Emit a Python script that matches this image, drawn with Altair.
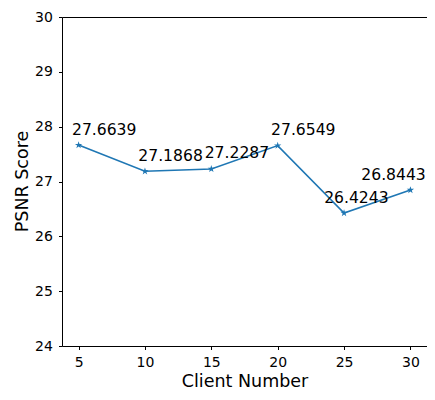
import altair as alt
import pandas as pd

clients = [5, 10, 15, 20, 25, 30]
psnr = [27.6639, 27.1868, 27.2287, 27.6549, 26.4243, 26.8443]
labels = ["27.6639", "27.1868", "27.2287", "27.6549", "26.4243", "26.8443"]
label_x = [4.5, 9.5, 14.5, 19.5, 23.5, 26.3]
x_ticks = [5, 10, 15, 20, 25, 30]
y_ticks = [24, 25, 26, 27, 28, 29, 30]

df = pd.DataFrame({"client": clients, "psnr": psnr, "label": labels, "lx": label_x})

STAR = ("M0,-1L0.2245,-0.309L0.9511,-0.309L0.3633,0.118L0.5878,0.809L0,0.382"
        "L-0.5878,0.809L-0.3633,0.118L-0.9511,-0.309L-0.2245,-0.309Z")

FONT = "DejaVu Sans"
BLUE = "#1f77b4"

xscale = alt.Scale(domain=[3.75, 31.25], nice=False, zero=False)
yscale = alt.Scale(domain=[24, 30], nice=False, zero=False)

xaxis = alt.Axis(orient="bottom", values=x_ticks, title="Client Number", grid=False, format="d",
                 titleY=40, titleBaseline="alphabetic",
                 labelBaseline="alphabetic", labelPadding=16.5)
xaxis_top = alt.Axis(orient="top", values=x_ticks, title=None, grid=False,
                     labels=False, ticks=False, domain=True)
yaxis = alt.Axis(values=y_ticks, title="PSNR Score", grid=False, format="d",
                 titleX=-35, titleY=164, titleAngle=270, titleBaseline="alphabetic",
                 titleAlign="center", labelPadding=6.2)

base = alt.Chart(df)

line = base.mark_line(color=BLUE, strokeWidth=1.6).encode(
    x=alt.X("client:Q", scale=xscale, axis=xaxis),
    y=alt.Y("psnr:Q", scale=yscale, axis=yaxis),
)

points = base.mark_point(shape=STAR, filled=True, size=60, color=BLUE, opacity=1).encode(
    x=alt.X("client:Q", scale=xscale, axis=xaxis_top),
    y=alt.Y("psnr:Q", scale=yscale),
)

texts = base.mark_text(align="left", baseline="alphabetic", dy=-10.5, fontSize=15.6,
                       font=FONT, color="black").encode(
    x=alt.X("lx:Q", scale=xscale, axis=None),
    y=alt.Y("psnr:Q", scale=yscale),
    text="label:N",
)

chart = (
    alt.layer(line, points, texts)
    .resolve_scale(x="shared", y="shared")
    .resolve_axis(x="independent")
    .properties(
        width=365,
        height=329,
        autosize=alt.AutoSizeParams(type="none"),
        padding={"left": 54, "top": 9, "right": 0, "bottom": 45},
    )
    .configure_view(stroke="transparent", strokeWidth=0)
    .configure_axis(
        domainColor="black", tickColor="black", labelColor="black", titleColor="black",
        labelFont=FONT, titleFont=FONT, labelFontSize=14, titleFontSize=17.5,
        titleFontWeight="normal", tickSize=3.5, domainWidth=1, tickWidth=1,
    )
)

chart.save("out.html", embed_options={"renderer": "svg", "actions": False})
